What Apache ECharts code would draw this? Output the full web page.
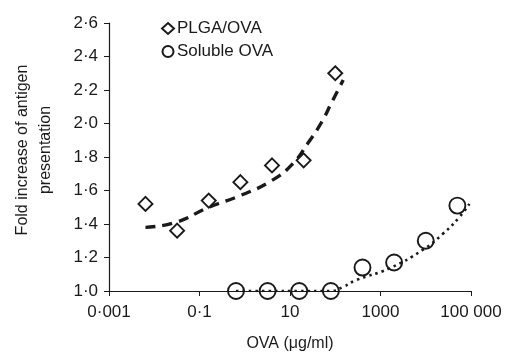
<!DOCTYPE html>
<html><head><meta charset="utf-8">
<script src="https://cdn.jsdelivr.net/npm/echarts@6/dist/echarts.min.js"></script>
<style>html,body{margin:0;padding:0;background:#fff}#c{width:512px;height:352px}</style>
</head><body><div id="c"></div>
<script>
// Data
const plgaX = [0.0064, 0.032, 0.16, 0.8, 4, 20, 100];
const plgaY = [1.52, 1.36, 1.54, 1.65, 1.75, 1.78, 2.30];
const solX = [0.64, 3.2, 16, 80, 400, 2000, 10000, 50000];
const solY = [1.00, 1.00, 1.00, 1.00, 1.14, 1.17, 1.30, 1.51];
// Trend lines (estimated from the drawn curves)
const plgaTrendX = [0.0064, 0.03, 0.16, 0.8, 4, 11.5, 24.5, 48, 85, 150];
const plgaTrendY = [1.38, 1.41, 1.50, 1.57, 1.66, 1.76, 1.88, 2.00, 2.13, 2.26];
const solTrendX = [0.64, 3.2, 16, 80, 150, 290, 1560, 8500, 23600, 55000, 92000];
const solTrendY = [1.00, 1.00, 1.00, 1.00, 1.025, 1.065, 1.135, 1.245, 1.34, 1.44, 1.52];
const xTicks = [0.001, 0.1, 10, 1000, 100000];
const xTickLabels = ['0·001', '0·1', '10', '1000', '100 000'];
const seriesNames = ['PLGA/OVA', 'Soluble OVA'];

const zip = (a, b) => a.map((v, i) => [v, b[i]]);
const F = 'Liberation Sans, Arial, sans-serif';
const C = '#1a1a1a';
const FS = 17;
const chart = echarts.init(document.getElementById('c'));
chart.setOption({
  animation: false,
  textStyle: {fontFamily: F},
  grid: {left: 109, right: 41, top: 23, bottom: 61, containLabel: false, outerBoundsMode: 'none'},
  legend: {
    data: [
      {name: seriesNames[0], icon: 'diamond'},
      {name: seriesNames[1], icon: 'circle'}
    ],
    orient: 'vertical', left: 161, top: 20, itemGap: 6, padding: 0,
    itemWidth: 12, itemHeight: 11,
    textStyle: {fontSize: 17, color: C, fontFamily: F, padding: [0, 0, 0, -2]}
  },
  xAxis: {
    type: 'log', logBase: 10, min: 0.001, max: 100000,
    name: 'OVA (μg/ml)', nameLocation: 'middle', nameGap: 45,
    nameTextStyle: {fontSize: 16, color: C, fontFamily: F},
    axisLine: {lineStyle: {color: C, width: 1.2}},
    axisTick: {show: true, length: 5, customValues: xTicks, lineStyle: {color: C}},
    axisLabel: {customValues: xTicks, fontSize: FS, color: C, margin: 13,
      formatter: v => { const i = xTicks.findIndex(t => Math.abs(Math.log10(t) - Math.log10(v)) < 1e-6); return i >= 0 ? xTickLabels[i] : ''; }},
    splitLine: {show: false}, minorTick: {show: false}
  },
  yAxis: {
    type: 'value', min: 1, max: 2.6, interval: 0.2,
    name: 'Fold increase of antigen\npresentation', nameLocation: 'middle', nameGap: 52,
    nameTextStyle: {fontSize: 16, color: C, fontFamily: F, lineHeight: 23, padding: [0, 0, 0, 14]},
    axisLine: {show: true, lineStyle: {color: C, width: 1.2}},
    axisTick: {show: true, length: 5, lineStyle: {color: C}},
    axisLabel: {fontSize: FS, color: C, margin: 11, formatter: v => v.toFixed(1).replace('.', '·')},
    splitLine: {show: false}
  },
  series: [
    {name: seriesNames[0] + ' trend', type: 'line', data: zip(plgaTrendX, plgaTrendY), smooth: true,
      showSymbol: false, silent: true, lineStyle: {color: C, width: 3.4, type: [10, 7]}, z: 1},
    {name: seriesNames[1] + ' trend', type: 'line', data: zip(solTrendX, solTrendY), smooth: true,
      showSymbol: false, silent: true, lineStyle: {color: C, width: 2.6, type: [2.5, 4]}, z: 1},
    {name: seriesNames[0], type: 'scatter', data: zip(plgaX, plgaY), symbol: 'diamond', symbolSize: 14,
      itemStyle: {color: '#fff', borderColor: C, borderWidth: 1.9, opacity: 1}, z: 3},
    {name: seriesNames[1], type: 'scatter', data: zip(solX, solY), symbol: 'circle', symbolSize: 16,
      itemStyle: {color: 'rgba(255,255,255,0)', borderColor: C, borderWidth: 1.9, opacity: 1}, z: 3}
  ]
});
</script></body></html>
